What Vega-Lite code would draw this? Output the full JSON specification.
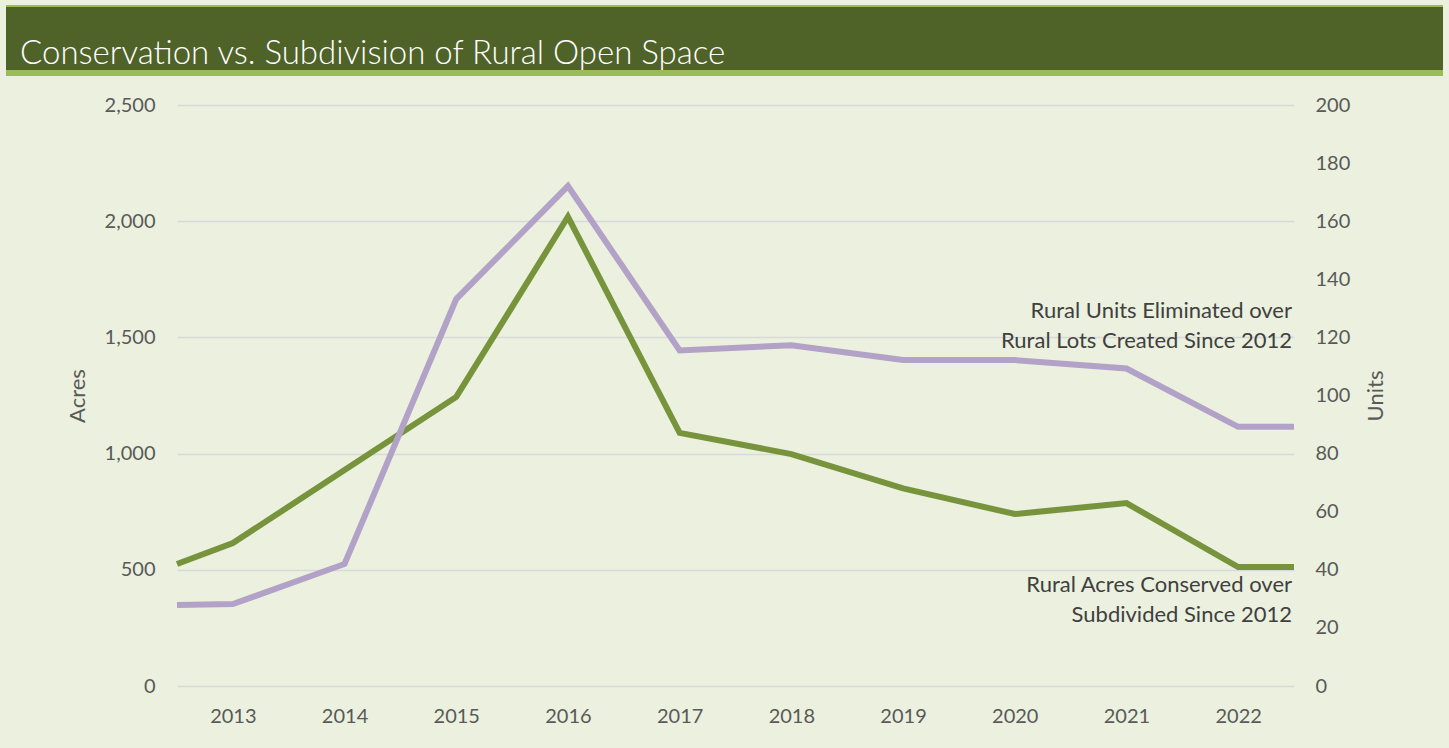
{
  "$schema": "https://vega.github.io/schema/vega-lite/v6.json",
  "background": "#EBF1DE",
  "padding": {"left": 6, "right": 6, "top": 5, "bottom": 22},
  "config": {"view": {"stroke": null}, "concat": {"spacing": 19}, "font": "Lato"},
  "vconcat": [
    {
      "width": 1437,
      "height": 71,
      "view": {"fill": "#4F6228", "stroke": null},
      "data": {"values": [{"title": "Conservation vs. Subdivision of Rural Open Space"}]},
      "layer": [
        {
          "mark": {"type": "rect", "color": "#9BBB59"},
          "encoding": {
            "y": {"datum": 0, "type": "quantitative", "scale": {"domain": [0, 71], "nice": false, "zero": false}, "axis": null},
            "y2": {"datum": 6}
          }
        },
        {
          "mark": {"type": "rect", "color": "#9BBB59"},
          "encoding": {
            "y": {"datum": 69, "type": "quantitative"},
            "y2": {"datum": 71}
          }
        },
        {
          "mark": {"type": "text", "align": "left", "baseline": "alphabetic", "color": "white", "fontSize": 33, "fontWeight": 300, "font": "Lato"},
          "encoding": {
            "x": {"datum": 14, "type": "quantitative", "scale": {"domain": [0, 1437], "nice": false, "zero": false}, "axis": null},
            "y": {"datum": 12, "type": "quantitative"},
            "text": {"field": "title"}
          }
        }
      ]
    },
    {
      "spacing": 59,
      "hconcat": [
        {
          "width": 1,
          "height": 1,
          "data": {"values": []},
          "mark": {"type": "point", "opacity": 0}
        },
        {
          "width": 1117,
          "height": 581,
          "data": {"values": [
            {"year": 2012.5, "acres": 525, "units": 27.9},
            {"year": 2013, "acres": 615, "units": 28.2},
            {"year": 2014, "acres": 929, "units": 42},
            {"year": 2015, "acres": 1244, "units": 133.2},
            {"year": 2016, "acres": 2019, "units": 172.1},
            {"year": 2017, "acres": 1089, "units": 115.5},
            {"year": 2018, "acres": 998, "units": 117.3},
            {"year": 2019, "acres": 850, "units": 112.2},
            {"year": 2020, "acres": 740, "units": 112.2},
            {"year": 2021, "acres": 787, "units": 109.3},
            {"year": 2022, "acres": 512, "units": 89.2},
            {"year": 2022.5, "acres": 512, "units": 89.2}
          ]},
          "layer": [
            {
              "layer": [
                {
                  "mark": {"type": "line", "color": "#77933C", "strokeWidth": 6, "strokeJoin": "miter", "strokeCap": "butt"},
                  "encoding": {
                    "x": {
                      "field": "year", "type": "quantitative",
                      "scale": {"domain": [2012.5, 2022.5], "nice": false, "zero": false},
                      "axis": {"values": [2013, 2014, 2015, 2016, 2017, 2018, 2019, 2020, 2021, 2022], "format": "d", "grid": false, "domain": false, "ticks": false, "labelPadding": 20, "title": null, "labelFontSize": 20, "labelColor": "#595959", "labelFont": "Lato"}
                    },
                    "y": {
                      "field": "acres", "type": "quantitative",
                      "scale": {"domain": [0, 2500], "nice": false},
                      "axis": {"title": "Acres", "values": [0, 500, 1000, 1500, 2000, 2500], "format": ",.0f", "grid": true, "gridColor": "#D9D9D9", "gridWidth": 1.5, "domain": false, "ticks": false, "labelPadding": 22, "labelFontSize": 20, "labelColor": "#595959", "labelFont": "Lato", "titleFontSize": 22, "titleColor": "#595959", "titleFontWeight": "normal", "titleFont": "Lato", "titlePadding": 15}
                    }
                  }
                },
                {
                  "data": {"values": [{"note": "Rural Units Eliminated over\nRural Lots Created Since 2012"}]},
                  "mark": {"type": "text", "align": "right", "baseline": "middle", "lineBreak": "\n", "lineHeight": 30, "fontSize": 22, "color": "#404040", "font": "Lato", "dx": -2},
                  "encoding": {
                    "x": {"datum": 2022.5, "type": "quantitative"},
                    "y": {"datum": 1613, "type": "quantitative"},
                    "text": {"field": "note"}
                  }
                },
                {
                  "data": {"values": [{"note": "Rural Acres Conserved over\nSubdivided Since 2012"}]},
                  "mark": {"type": "text", "align": "right", "baseline": "middle", "lineBreak": "\n", "lineHeight": 30, "fontSize": 22, "color": "#404040", "font": "Lato", "dx": -2},
                  "encoding": {
                    "x": {"datum": 2022.5, "type": "quantitative"},
                    "y": {"datum": 435, "type": "quantitative"},
                    "text": {"field": "note"}
                  }
                }
              ]
            },
            {
              "mark": {"type": "line", "color": "#B3A2C7", "strokeWidth": 6, "strokeJoin": "miter", "strokeCap": "butt"},
              "encoding": {
                "x": {"field": "year", "type": "quantitative"},
                "y": {
                  "field": "units", "type": "quantitative",
                  "scale": {"domain": [0, 200], "nice": false},
                  "axis": {"orient": "right", "title": "Units", "values": [0, 20, 40, 60, 80, 100, 120, 140, 160, 180, 200], "grid": false, "domain": false, "ticks": false, "labelPadding": 21, "labelFontSize": 20, "labelColor": "#595959", "labelFont": "Lato", "titleFontSize": 22, "titleColor": "#595959", "titleFontWeight": "normal", "titleFont": "Lato", "titlePadding": 16, "titleAngle": 270, "titleBaseline": "top"}
                }
              }
            }
          ],
          "resolve": {"scale": {"y": "independent"}}
        }
      ]
    }
  ]
}
